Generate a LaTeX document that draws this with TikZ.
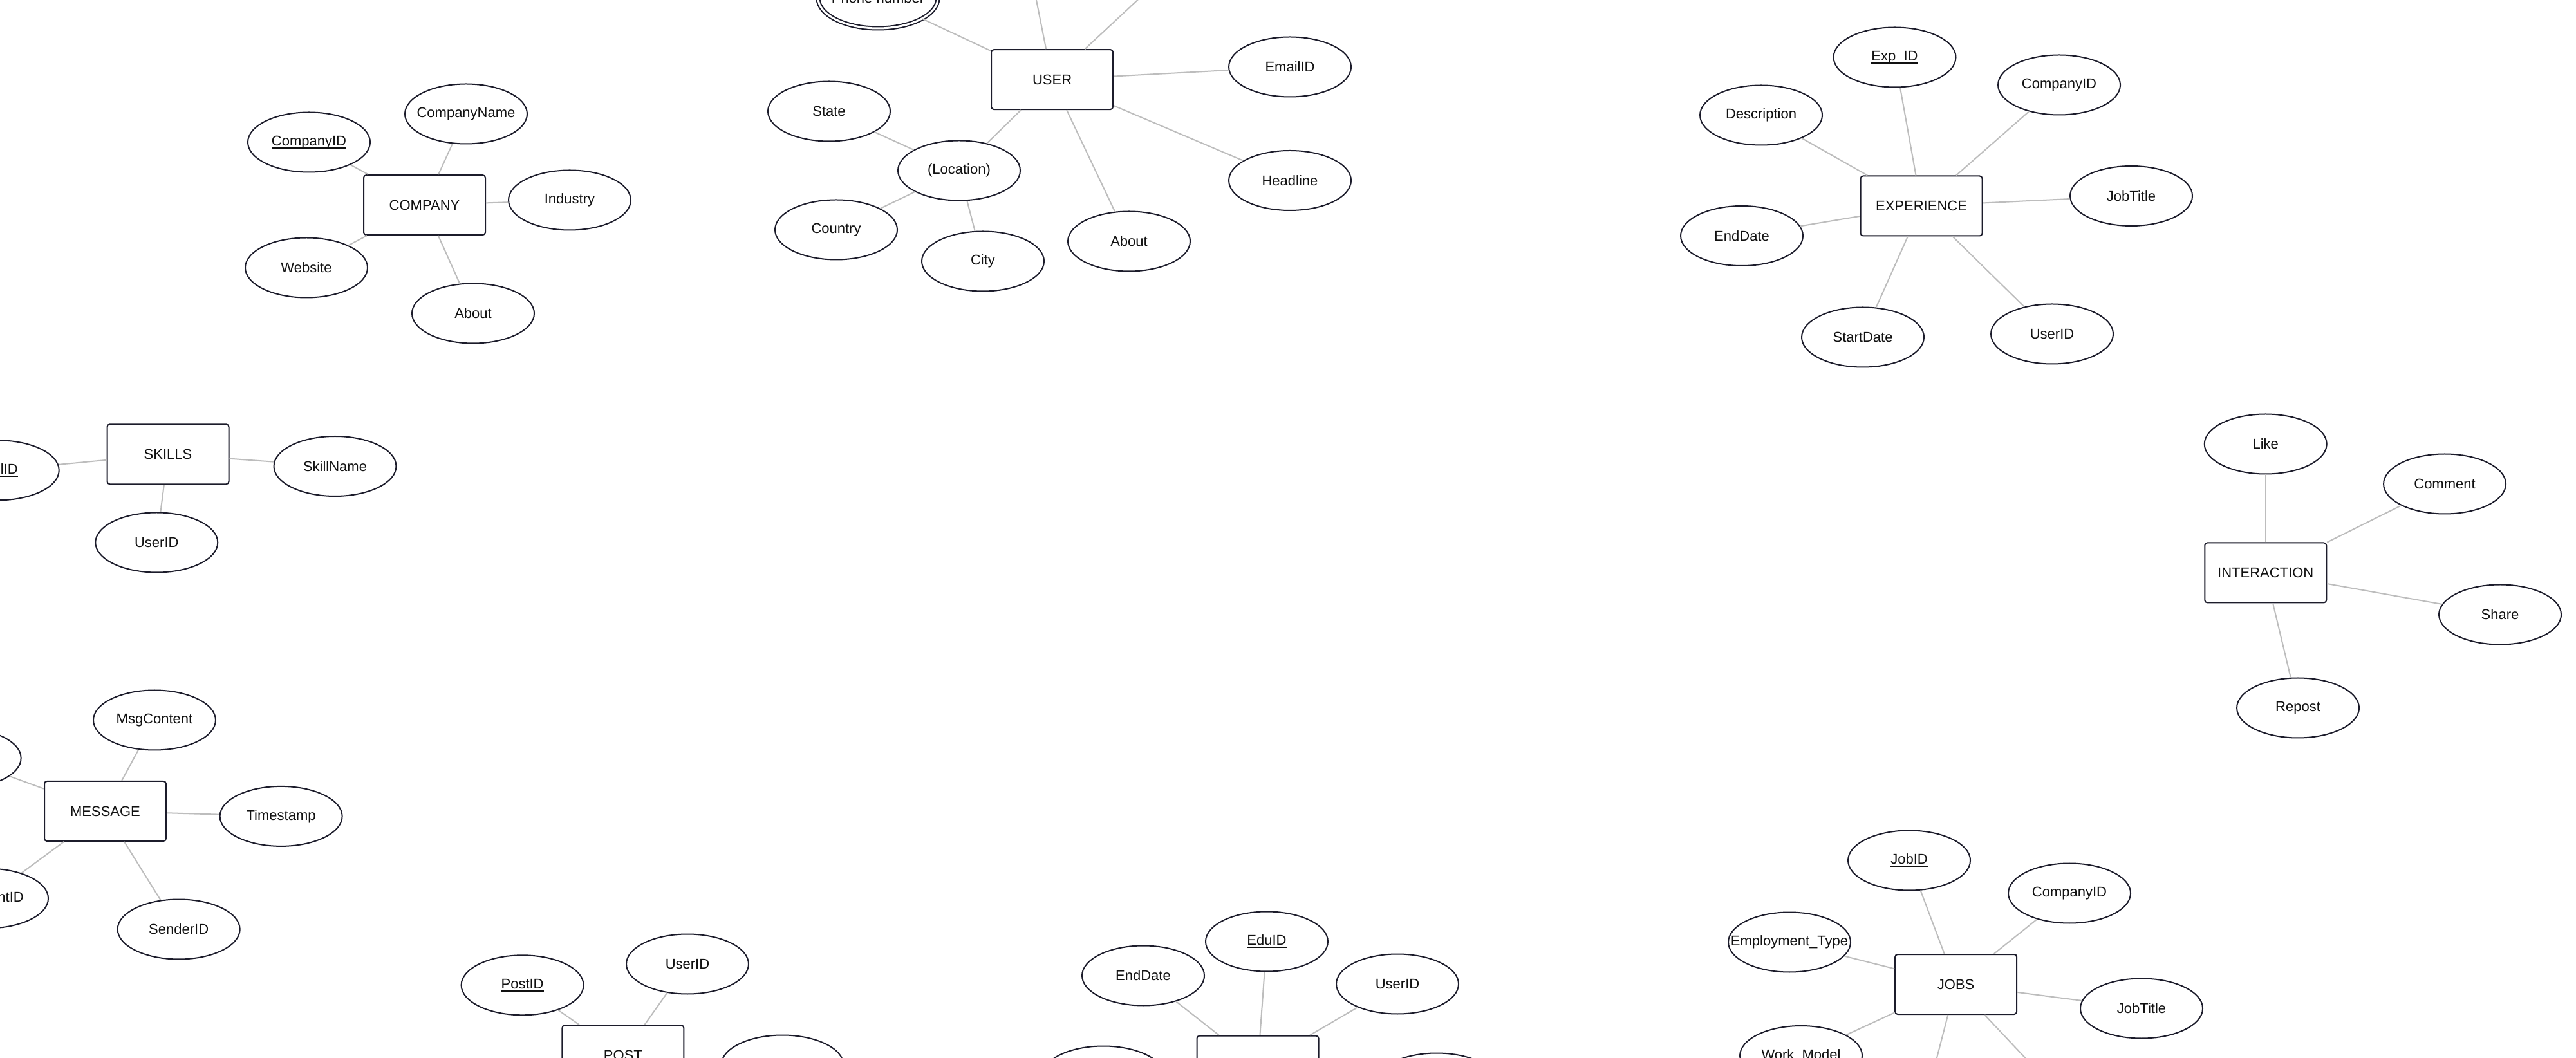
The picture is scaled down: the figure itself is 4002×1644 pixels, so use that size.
\documentclass[tikz,border=0pt]{standalone}
\usepackage{fontspec}
\setmainfont{Liberation Sans}
\usetikzlibrary{shapes.geometric}
\definecolor{edgec}{HTML}{1C1C2B}
\definecolor{linec}{HTML}{BDBDBD}
\definecolor{txtc}{HTML}{111111}
\newcommand{\cz}[1]{\makebox[0pt][c]{#1}}
\newcommand{\keyu}[1]{\begingroup\setbox0=\hbox{#1}\rlap{\rule[-1.1pt]{\wd0}{0.4pt}}\box0\endgroup}
\tikzset{
  attr/.style={ellipse, draw=edgec, line width=0.5pt, fill=white, minimum width=47.5pt, minimum height=23.25pt, inner sep=0pt, text=txtc, font=\fontsize{5.5pt}{6.6pt}\selectfont},
  multiattr/.style={attr, double=white, double distance=0.75pt, minimum width=46.5pt, minimum height=23.5pt},
  ent/.style={rectangle, rounded corners=1pt, draw=edgec, line width=0.5pt, fill=white, minimum width=47.25pt, minimum height=23.25pt, inner sep=0pt, text=txtc, font=\fontsize{5.5pt}{6.6pt}\selectfont},
  conn/.style={draw=linec, line width=0.5pt}
}
\begin{document}
\begin{tikzpicture}[x=0.25pt,y=-0.25pt]
\useasboundingbox (0,0) rectangle (4002,1644);
\clip (0,0) rectangle (4002,1644);
\fill[white] (0,0) rectangle (4002,1644);

% ---------- COMPANY ----------
\node[ent]  (co)      at (659.5,318.6) {COMPANY};
\node[attr] (coName)  at (724,177)  {\cz{CompanyName}};
\node[attr] (coID)    at (480,221)  {\cz{\keyu{CompanyID}}};
\node[attr] (coInd)   at (885,311)  {\cz{Industry}};
\node[attr] (coWeb)   at (476,416)  {\cz{Website}};
\node[attr] (coAbout) at (735,487)  {\cz{About}};
\foreach \a in {coName,coID,coInd,coWeb,coAbout} \draw[conn] (co) -- (\a);

% ---------- USER ----------
\node[ent]  (us)        at (1634.6,123.6) {USER};
\node[multiattr] (usPhone) at (1364,-3) {\cz{Phone number}};
\node[attr] (usEmail)   at (2004,104)   {\cz{EmailID}};
\node[attr] (usHead)    at (2004,280.5) {\cz{Headline}};
\node[attr] (usAbout)   at (1754,375)   {\cz{About}};
\node[attr] (usLoc)     at (1490,265)   {\cz{(Location)}};
\node[attr] (usState)   at (1288,173)   {\cz{State}};
\node[attr] (usCountry) at (1299,357)   {\cz{Country}};
\node[attr] (usCity)    at (1527,406)   {\cz{City}};
\coordinate (u1) at (1600,-50);
\coordinate (u2) at (1818.6,-47.8);
\foreach \a in {usPhone,usEmail,usHead,usAbout,usLoc,u1,u2} \draw[conn] (us) -- (\a);
\foreach \a in {usState,usCountry,usCity} \draw[conn] (usLoc) -- (\a);

% ---------- EXPERIENCE ----------
\node[ent]  (ex)      at (2985,320)   {EXPERIENCE};
\node[attr] (exID)    at (2943.5,89)  {\cz{\keyu{Exp\_ID}}};
\node[attr] (exDesc)  at (2736,179)   {\cz{Description}};
\node[attr] (exComp)  at (3199,132)   {\cz{CompanyID}};
\node[attr] (exJob)   at (3311,304.5) {\cz{JobTitle}};
\node[attr] (exEnd)   at (2706,366.5) {\cz{EndDate}};
\node[attr] (exStart) at (2894,524)   {\cz{StartDate}};
\node[attr] (exUser)  at (3188,519)   {\cz{UserID}};
\foreach \a in {exID,exDesc,exComp,exJob,exEnd,exStart,exUser} \draw[conn] (ex) -- (\a);

% ---------- INTERACTION ----------
\node[ent]  (in)       at (3519.7,890) {INTERACTION};
\node[attr] (inLike)   at (3519.7,690) {\cz{Like}};
\node[attr] (inComm)   at (3798,752)   {\cz{Comment}};
\node[attr] (inShare)  at (3884,955)   {\cz{Share}};
\node[attr] (inRepost) at (3570,1100)  {\cz{Repost}};
\foreach \a in {inLike,inComm,inShare,inRepost} \draw[conn] (in) -- (\a);

% ---------- SKILLS ----------
\node[ent]  (sk)     at (261,705.8)   {SKILLS};
\node[attr] (skID)   at (-3.3,730.8)  {\cz{\keyu{SkillID}}};
\node[attr] (skName) at (520.5,724.5) {\cz{SkillName}};
\node[attr] (skUser) at (243.3,843)   {\cz{UserID}};
\foreach \a in {skID,skName,skUser} \draw[conn] (sk) -- (\a);

% ---------- MESSAGE ----------
\node[ent]  (ms)     at (163.5,1260.5) {MESSAGE};
\node[attr] (msCont) at (240,1119)     {\cz{MsgContent}};
\node[attr] (msTime) at (436.6,1268.4) {\cz{Timestamp}};
\node[attr] (msSend) at (277.7,1444)   {\cz{SenderID}};
\node[attr] (msTL)   at (-62.3,1178)   {};
\node[attr] (msRec)  at (-20,1396)     {\cz{RecipientID}};
\foreach \a in {msCont,msTime,msSend,msTL,msRec} \draw[conn] (ms) -- (\a);

% ---------- POST ----------
\node[ent]  (po)     at (967.9,1639.8) {POST};
\node[attr] (poID)   at (811.6,1530.8) {\cz{\keyu{PostID}}};
\node[attr] (poUser) at (1068,1498)    {\cz{UserID}};
\node[attr] (poR)    at (1215.5,1655)  {};
\foreach \a in {poID,poUser,poR} \draw[conn] (po) -- (\a);

% ---------- EDUCATION ----------
\node[ent]  (ed)     at (1954,1656) {};
\node[attr] (edID)   at (1968,1463) {\cz{\keyu{EduID}}};
\node[attr] (edEnd)  at (1776,1516) {\cz{EndDate}};
\node[attr] (edUser) at (2171,1529) {\cz{UserID}};
\node[attr] (edL)    at (1714,1672) {};
\node[attr] (edR)    at (2232,1683) {};
\foreach \a in {edID,edEnd,edUser,edL,edR} \draw[conn] (ed) -- (\a);

% ---------- JOBS ----------
\node[ent]  (jb)      at (3038.6,1529.5) {JOBS};
\node[attr] (jbID)    at (2966,1337)     {\cz{\keyu{JobID}}};
\node[attr] (jbComp)  at (3215,1388)     {\cz{CompanyID}};
\node[attr] (jbEmp)   at (2780,1464)     {\cz{Employment\_Type}};
\node[attr] (jbTitle) at (3327,1567)     {\cz{JobTitle}};
\node[attr] (jbWork)  at (2798,1640.5)   {\cz{Work\_Model}};
\coordinate (j1) at (2990,1717);
\coordinate (j2) at (3215,1717);
\foreach \a in {jbID,jbComp,jbEmp,jbTitle,jbWork,j1,j2} \draw[conn] (jb) -- (\a);
\end{tikzpicture}
\end{document}
